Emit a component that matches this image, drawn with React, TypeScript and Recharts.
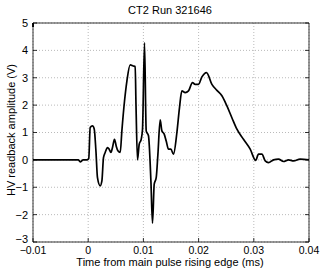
import React from 'react';
import { LineChart, Line, XAxis, YAxis, CartesianGrid } from 'recharts';

const times = [
  -0.01, -0.0018, -0.00145, -0.0009, -0.0002, 0.0001, 0.00036, 0.00078, 0.00109, 0.0014,
  0.00168, 0.00217, 0.00248, 0.00277, 0.00308, 0.0035, 0.0038, 0.00411, 0.0044, 0.00476,
  0.00507, 0.00538, 0.0058, 0.0061, 0.00658, 0.00701, 0.00761, 0.00815, 0.00851, 0.00866,
  0.00893, 0.00924, 0.0096, 0.00984, 0.0102, 0.01051, 0.01092, 0.01136, 0.01165, 0.01196,
  0.01232, 0.01263, 0.01304, 0.01335, 0.01377, 0.01413, 0.01455, 0.01498, 0.01545, 0.01607,
  0.01654, 0.01697, 0.01757, 0.01817, 0.01889, 0.01938, 0.01998, 0.0206, 0.02143, 0.02241,
  0.02332, 0.02422, 0.02513, 0.02603, 0.02694, 0.02813, 0.02935, 0.03034, 0.03085, 0.03147,
  0.03207, 0.03266, 0.03357, 0.03447, 0.03538, 0.03629, 0.0372, 0.0384, 0.04,
];
const volts = [
  0, 0, -0.07, 0, 0, 0.05, 1.18, 1.24, 1.13, 0.33,
  -0.65, -0.95, -0.77, 0.08, 0.27, 0.45, 0.39, 0.27, 0.45, 0.75,
  0.51, 0.33, 0.27, 1.06, 2.15, 2.88, 3.47, 3.43, 3.41, 2.0,
  0.0, 0.57, 0.75, 1.12, 4.28, 1.06, 0.88, -0.77, -2.31, -0.89,
  -0.65, 0.21, 1.46, 1.06, 0.94, 0.69, 0.39, 0.39, 0.21, 1.0,
  1.91, 2.52, 2.46, 2.52, 2.82, 2.76, 2.76, 3.03, 3.19, 2.76,
  2.54, 2.34, 1.97, 1.54, 1.12, 0.75, 0.39, -0.02, 0.21, 0.21,
  -0.04, -0.1, 0, 0.03, -0.06, 0, -0.04, 0.03, 0,
];
const xTicks = [-0.01, 0, 0.01, 0.02, 0.03, 0.04];
const yTicks = [-3, -2, -1, 0, 1, 2, 3, 4, 5];
const titleText = 'CT2 Run 321646';
const xLabelText = 'Time from main pulse rising edge (ms)';
const yLabelText = 'HV readback amplitude (V)';

const data = times.map((t, i) => ({ t, v: volts[i] }));

const FONT = '"Liberation Sans", Arial, Helvetica, sans-serif';
const MINUS = '\u2212';
const fmtX = (v: number) => (v === 0 ? '0' : (v < 0 ? MINUS : '') + Math.abs(v).toFixed(2));
const fmtY = (v: number) => (v < 0 ? MINUS : '') + String(Math.abs(v));

const BottomTick = (p: any) => {
  const { x, y, payload } = p;
  return (
    <g>
      <line x1={x} x2={x} y1={y} y2={y - 4} stroke="#000" strokeWidth={0.8} />
      <text x={x} y={y + 11.5} textAnchor="middle" fontSize={10.5} fontFamily={FONT} fill="#000">
        {fmtX(payload.value)}
      </text>
    </g>
  );
};
const TopTick = (p: any) => {
  const { x, y } = p;
  return <line x1={x} x2={x} y1={y} y2={y + 4} stroke="#000" strokeWidth={0.8} />;
};
const LeftTick = (p: any) => {
  const { x, y, payload } = p;
  const lift = payload.value === yTicks[0] ? 2.5 : 0;
  return (
    <g>
      <line x1={x} x2={x + 4} y1={y} y2={y} stroke="#000" strokeWidth={0.8} />
      <text x={x - 5} y={y - lift} dy="0.36em" textAnchor="end" fontSize={11} fontFamily={FONT} fill="#000">
        {fmtY(payload.value)}
      </text>
    </g>
  );
};
const RightTick = (p: any) => {
  const { x, y } = p;
  return <line x1={x} x2={x - 4} y1={y} y2={y} stroke="#000" strokeWidth={0.8} />;
};

export default function App() {
  return (
    <div style={{ position: 'absolute', left: 0, top: 0, width: 322, height: 269, background: '#fff' }}>
      <LineChart width={322} height={269} data={data} margin={{ top: 22, right: 12, bottom: 26, left: 32 }}>
        <CartesianGrid stroke="#a8a8a8" strokeDasharray="1 2" strokeWidth={0.8} />
        <XAxis
          dataKey="t"
          type="number"
          domain={[-0.01, 0.04]}
          ticks={xTicks}
          allowDataOverflow
          height={1}
          tickSize={0}
          tickMargin={0}
          tick={<BottomTick />}
          axisLine={{ stroke: '#000', strokeWidth: 0.8 }}
          interval={0}
        />
        <XAxis
          xAxisId="top"
          orientation="top"
          type="number"
          domain={[-0.01, 0.04]}
          ticks={xTicks}
          allowDataOverflow
          height={1}
          tickSize={0}
          tickMargin={0}
          tick={<TopTick />}
          axisLine={{ stroke: '#000', strokeWidth: 0.8 }}
          interval={0}
        />
        <YAxis
          type="number"
          domain={[-3, 5]}
          ticks={yTicks}
          allowDataOverflow
          width={1}
          tickSize={0}
          tickMargin={0}
          tick={<LeftTick />}
          axisLine={{ stroke: '#000', strokeWidth: 0.8 }}
          interval={0}
        />
        <YAxis
          yAxisId="right"
          orientation="right"
          type="number"
          domain={[-3, 5]}
          ticks={yTicks}
          allowDataOverflow
          width={1}
          tickSize={0}
          tickMargin={0}
          tick={<RightTick />}
          axisLine={{ stroke: '#000', strokeWidth: 0.8 }}
          interval={0}
        />
        <Line
          type="monotone"
          dataKey="v"
          stroke="#000"
          strokeWidth={1.7}
          dot={false}
          isAnimationActive={false}
        />
      </LineChart>
      <svg width={322} height={269} style={{ position: 'absolute', left: 0, top: 0, pointerEvents: 'none' }}>
        <text x={170} y={14} textAnchor="middle" fontSize={11} fontFamily={FONT} fill="#000">
          {titleText}
        </text>
        <text x={170} y={265.5} textAnchor="middle" fontSize={11} fontFamily={FONT} fill="#000">
          {xLabelText}
        </text>
        <text
          x={0}
          y={0}
          transform="translate(15,130) rotate(-90)"
          textAnchor="middle"
          fontSize={11}
          fontFamily={FONT}
          fill="#000"
        >
          {yLabelText}
        </text>
      </svg>
    </div>
  );
}
